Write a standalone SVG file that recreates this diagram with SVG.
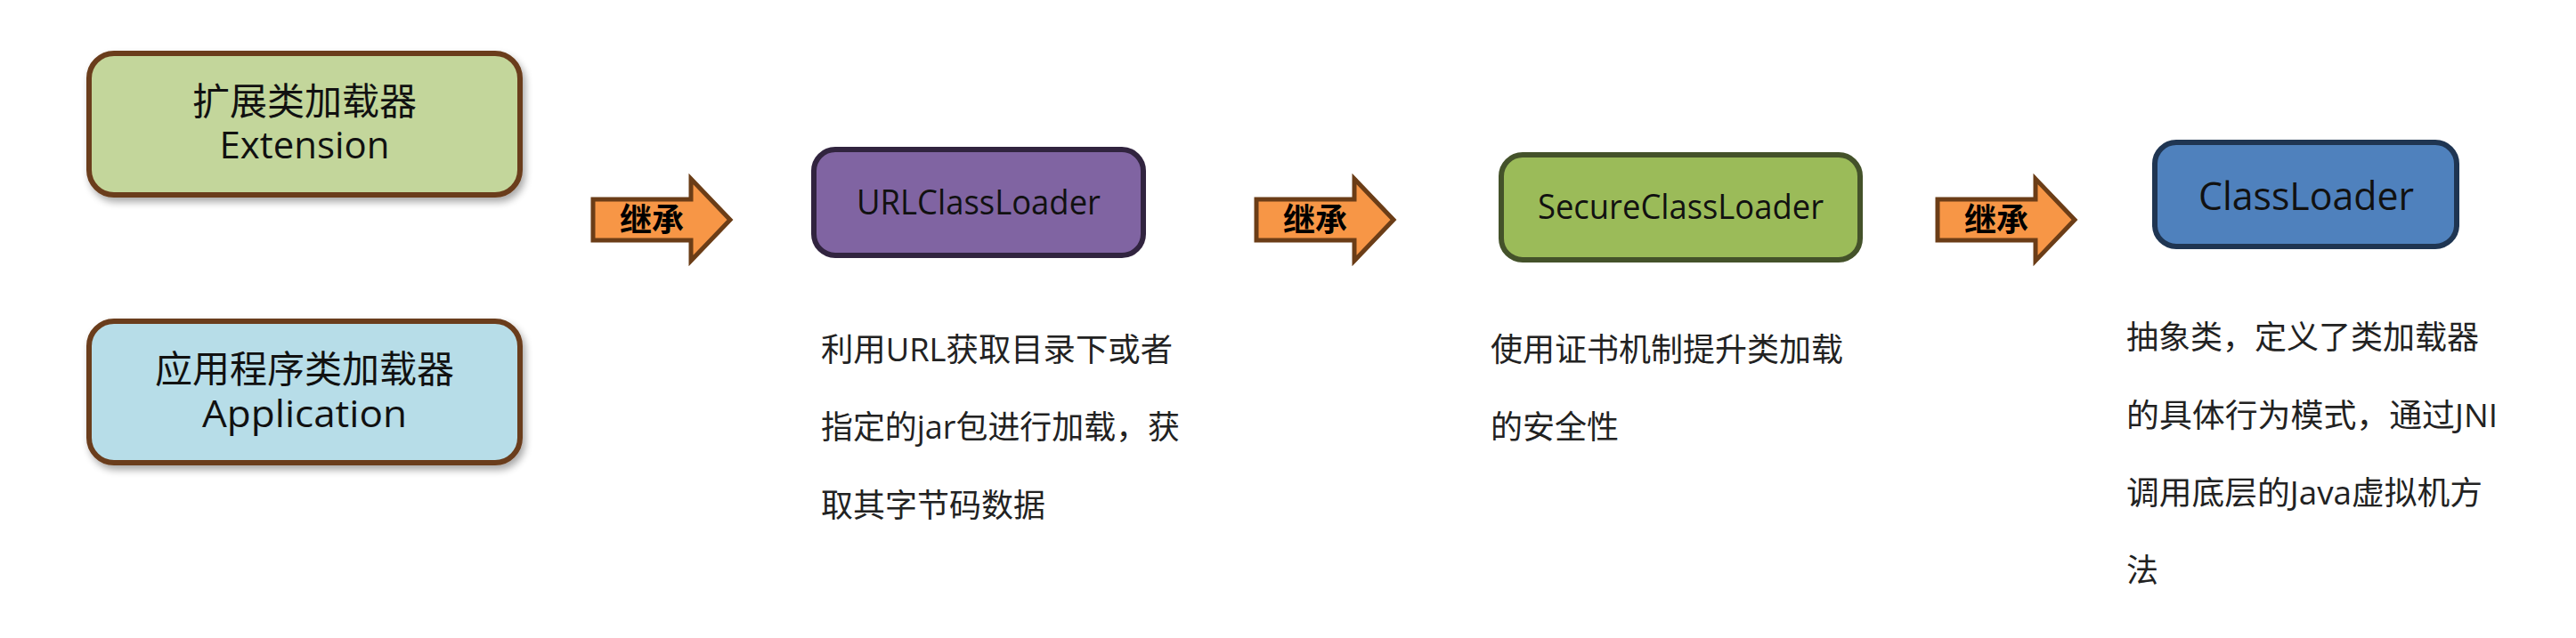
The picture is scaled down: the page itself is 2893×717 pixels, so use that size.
<svg xmlns="http://www.w3.org/2000/svg" width="2893" height="717" viewBox="0 0 2893 717">
  <defs>
    <filter id="shadow" x="-10%" y="-10%" width="120%" height="130%">
      <feGaussianBlur in="SourceAlpha" stdDeviation="4"/>
      <feOffset dx="3" dy="5" result="b"/>
      <feComponentTransfer><feFuncA type="linear" slope="0.35"/></feComponentTransfer>
      <feMerge><feMergeNode/><feMergeNode in="SourceGraphic"/></feMerge>
    </filter>
    <path id="inheritArrow" d="M666 224 H776 V201 L820 247 L776 293 V270 H666 Z"/>
  </defs>
  <style>
    text { font-family: "Open Sans", "Noto Sans CJK SC", sans-serif; fill: #111; }
    .box { stroke-width: 6; }
    .brown { stroke: #6B3D1B; }
    .lbl { font-size: 42px; text-anchor: middle; }
    .cls { text-anchor: middle; }
    .desc { font-size: 36px; fill: #222; }
    .arrow { fill: #F79646; stroke: #6B3D17; stroke-width: 5; stroke-linejoin: miter; }
    .arrowText { font-family: "Noto Sans CJK SC", sans-serif; font-weight: bold; font-size: 36px; text-anchor: middle; fill: #000; }
  </style>
  <rect width="2893" height="717" fill="#FFFFFF"/>

  <g id="ext">
    <rect class="box brown" x="100" y="60" width="484" height="159" rx="28" fill="#C3D69B" filter="url(#shadow)"/>
    <text class="lbl" x="342" y="129">扩展类加载器</text>
    <text class="lbl" x="342" y="178" textLength="191" lengthAdjust="spacingAndGlyphs">Extension</text>
  </g>

  <g id="app">
    <rect class="box brown" x="100" y="361" width="484" height="159" rx="28" fill="#B7DDE8" filter="url(#shadow)"/>
    <text class="lbl" x="342" y="430">应用程序类加载器</text>
    <text class="lbl" x="342" y="480" textLength="230" lengthAdjust="spacingAndGlyphs">Application</text>
  </g>

  <g id="urlcl">
    <rect class="box" x="914" y="168" width="370" height="119" rx="24" fill="#8064A2" stroke="#31243F"/>
    <text class="cls" x="1099" y="241" font-size="39" textLength="274" lengthAdjust="spacingAndGlyphs">URLClassLoader</text>
    <text class="desc" x="922" y="406" textLength="395" lengthAdjust="spacingAndGlyphs">利用URL获取目录下或者</text>
    <text class="desc" x="922" y="493" textLength="403" lengthAdjust="spacingAndGlyphs">指定的jar包进行加载，获</text>
    <text class="desc" x="922" y="581">取其字节码数据</text>
  </g>

  <g id="securecl">
    <rect class="box" x="1686" y="174" width="403" height="118" rx="24" fill="#9BBB59" stroke="#44522A"/>
    <text class="cls" x="1887.5" y="246" font-size="39" textLength="321" lengthAdjust="spacingAndGlyphs">SecureClassLoader</text>
    <text class="desc" x="1674" y="406">使用证书机制提升类加载</text>
    <text class="desc" x="1674" y="493">的安全性</text>
  </g>

  <g id="cl">
    <rect class="box" x="2420" y="160" width="339" height="117" rx="24" fill="#4F81BD" stroke="#1F3552"/>
    <text class="cls" x="2590" y="236" font-size="43" textLength="242" lengthAdjust="spacingAndGlyphs">ClassLoader</text>
    <text class="desc" x="2388" y="392">抽象类，定义了类加载器</text>
    <text class="desc" x="2388" y="480" textLength="417" lengthAdjust="spacingAndGlyphs">的具体行为模式，通过JNI</text>
    <text class="desc" x="2388" y="567" textLength="400" lengthAdjust="spacingAndGlyphs">调用底层的Java虚拟机方</text>
    <text class="desc" x="2388" y="654">法</text>
  </g>

  <g id="connectors">
    <g id="arrow1">
      <use href="#inheritArrow" class="arrow"/>
      <text class="arrowText" x="732" y="260">继承</text>
    </g>
    <g id="arrow2" transform="translate(745,0)">
      <use href="#inheritArrow" class="arrow"/>
      <text class="arrowText" x="732" y="260">继承</text>
    </g>
    <g id="arrow3" transform="translate(1510,0)">
      <use href="#inheritArrow" class="arrow"/>
      <text class="arrowText" x="732" y="260">继承</text>
    </g>
  </g>
</svg>
